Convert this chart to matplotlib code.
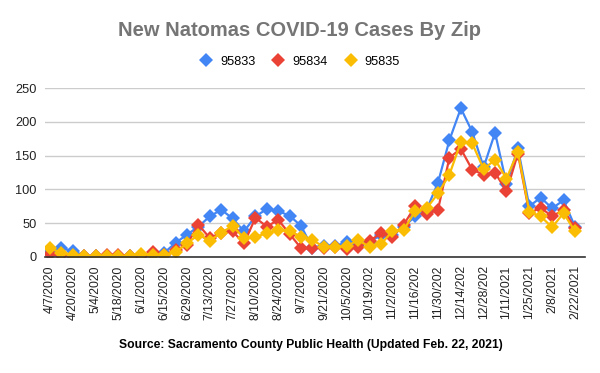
import matplotlib
matplotlib.use("Agg")
import matplotlib.pyplot as plt

plt.rcParams['font.family'] = ['Liberation Sans', 'DejaVu Sans']

dates = ["4/7/2020", "4/13/2020", "4/20/2020", "4/27/2020", "5/4/2020", "5/11/2020", "5/18/2020",
         "5/25/2020", "6/1/2020", "6/8/2020", "6/15/2020", "6/22/2020", "6/29/2020", "7/6/2020",
         "7/13/2020", "7/20/2020", "7/27/2020", "8/3/2020", "8/10/2020", "8/17/2020", "8/24/2020",
         "8/31/2020", "9/7/2020", "9/14/2020", "9/21/2020", "9/28/2020", "10/5/2020", "10/12/2020",
         "10/19/2020", "10/26/2020", "11/2/2020", "11/9/2020", "11/16/2020", "11/23/2020",
         "11/30/2020", "12/7/2020", "12/14/2020", "12/21/2020", "12/28/2020", "1/4/2021",
         "1/11/2021", "1/18/2021", "1/25/2021", "2/1/2021", "2/8/2021", "2/15/2021", "2/22/2021"]

zip_95833 = [8, 13, 9, 2, 1, 1, 1, 2, 2, 5, 6, 21, 33, 45, 60, 70, 57, 38, 60, 71, 68, 61, 46, 13,
             17, 16, 22, 17, 22, 33, 32, 45, 60, 70, 110, 173, 220, 185, 133, 184, 108, 161, 75,
             88, 72, 84, 45]
zip_95834 = [5, 3, 2, 1, 1, 3, 3, 2, 1, 7, 3, 10, 18, 48, 28, 36, 38, 20, 58, 45, 55, 34, 13, 13,
             14, 15, 12, 15, 24, 35, 30, 48, 75, 63, 70, 147, 160, 129, 122, 125, 97, 153, 65,
             73, 60, 70, 43]
zip_95835 = [13, 6, 3, 2, 1, 1, 1, 2, 5, 3, 3, 7, 20, 33, 24, 36, 46, 28, 30, 35, 40, 38, 30, 25,
             15, 15, 16, 25, 15, 19, 38, 40, 68, 72, 94, 122, 170, 168, 130, 144, 116, 156, 67,
             60, 44, 65, 38]

tick_labels = ["4/7/2020", "4/20/2020", "5/4/2020", "5/18/2020", "6/1/2020", "6/15/2020",
               "6/29/2020", "7/13/2020", "7/27/2020", "8/10/2020", "8/24/2020", "9/7/2020",
               "9/21/2020", "10/5/2020", "10/19/202", "11/2/2020", "11/16/202", "11/30/202",
               "12/14/202", "12/28/202", "1/11/2021", "1/25/2021", "2/8/2021", "2/22/2021"]

series = [("95833", zip_95833, "#4285F4"),
          ("95834", zip_95834, "#EA4335"),
          ("95835", zip_95835, "#FBBC04")]

fig = plt.figure(figsize=(6, 3.73), dpi=100)
ax = fig.add_axes([0.075, 0.311, 0.90, 0.453])

x = list(range(len(dates)))
for name, vals, col in series:
    ax.plot(x, vals, color=col, lw=1.6, marker='D', markersize=6.8,
            markeredgewidth=0, label=name)

ax.set_ylim(0, 250)
ax.set_yticks([0, 50, 100, 150, 200, 250])
ax.set_xlim(-0.44, len(dates) - 1 + 0.88)
ax.set_xticks(x[::2])
ax.set_xticklabels(tick_labels, rotation=90, fontsize=8.8, color='#222222')
ax.tick_params(axis='y', labelsize=9.2, colors='#222222', length=0, pad=6)
ax.tick_params(axis='x', length=0, pad=6)
ax.grid(axis='y', color='#cccccc', lw=1)
ax.set_axisbelow(True)
for s in ['left', 'right', 'top']:
    ax.spines[s].set_visible(False)
ax.spines['bottom'].set_color('#333333')
ax.spines['bottom'].set_linewidth(1.2)

fig.text(0.5, 0.918, "New Natomas COVID-19 Cases By Zip", ha='center', va='center',
         fontsize=14.5, fontweight='bold', color='#757575')

handles, labels = ax.get_legend_handles_labels()
leg = fig.legend(handles, labels, loc='center', bbox_to_anchor=(0.5, 0.834), ncol=3,
                 frameon=False, fontsize=9.2, handlelength=1.0, handletextpad=0.6,
                 columnspacing=1.3)
for h in leg.legend_handles:
    h.set_linestyle('none')

fig.text(0.518, 0.075, "Source: Sacramento County Public Health (Updated Feb. 22, 2021)",
         ha='center', va='center', fontsize=8.7, fontweight='bold', color='#000000')

fig.savefig("out.png", dpi=100)
